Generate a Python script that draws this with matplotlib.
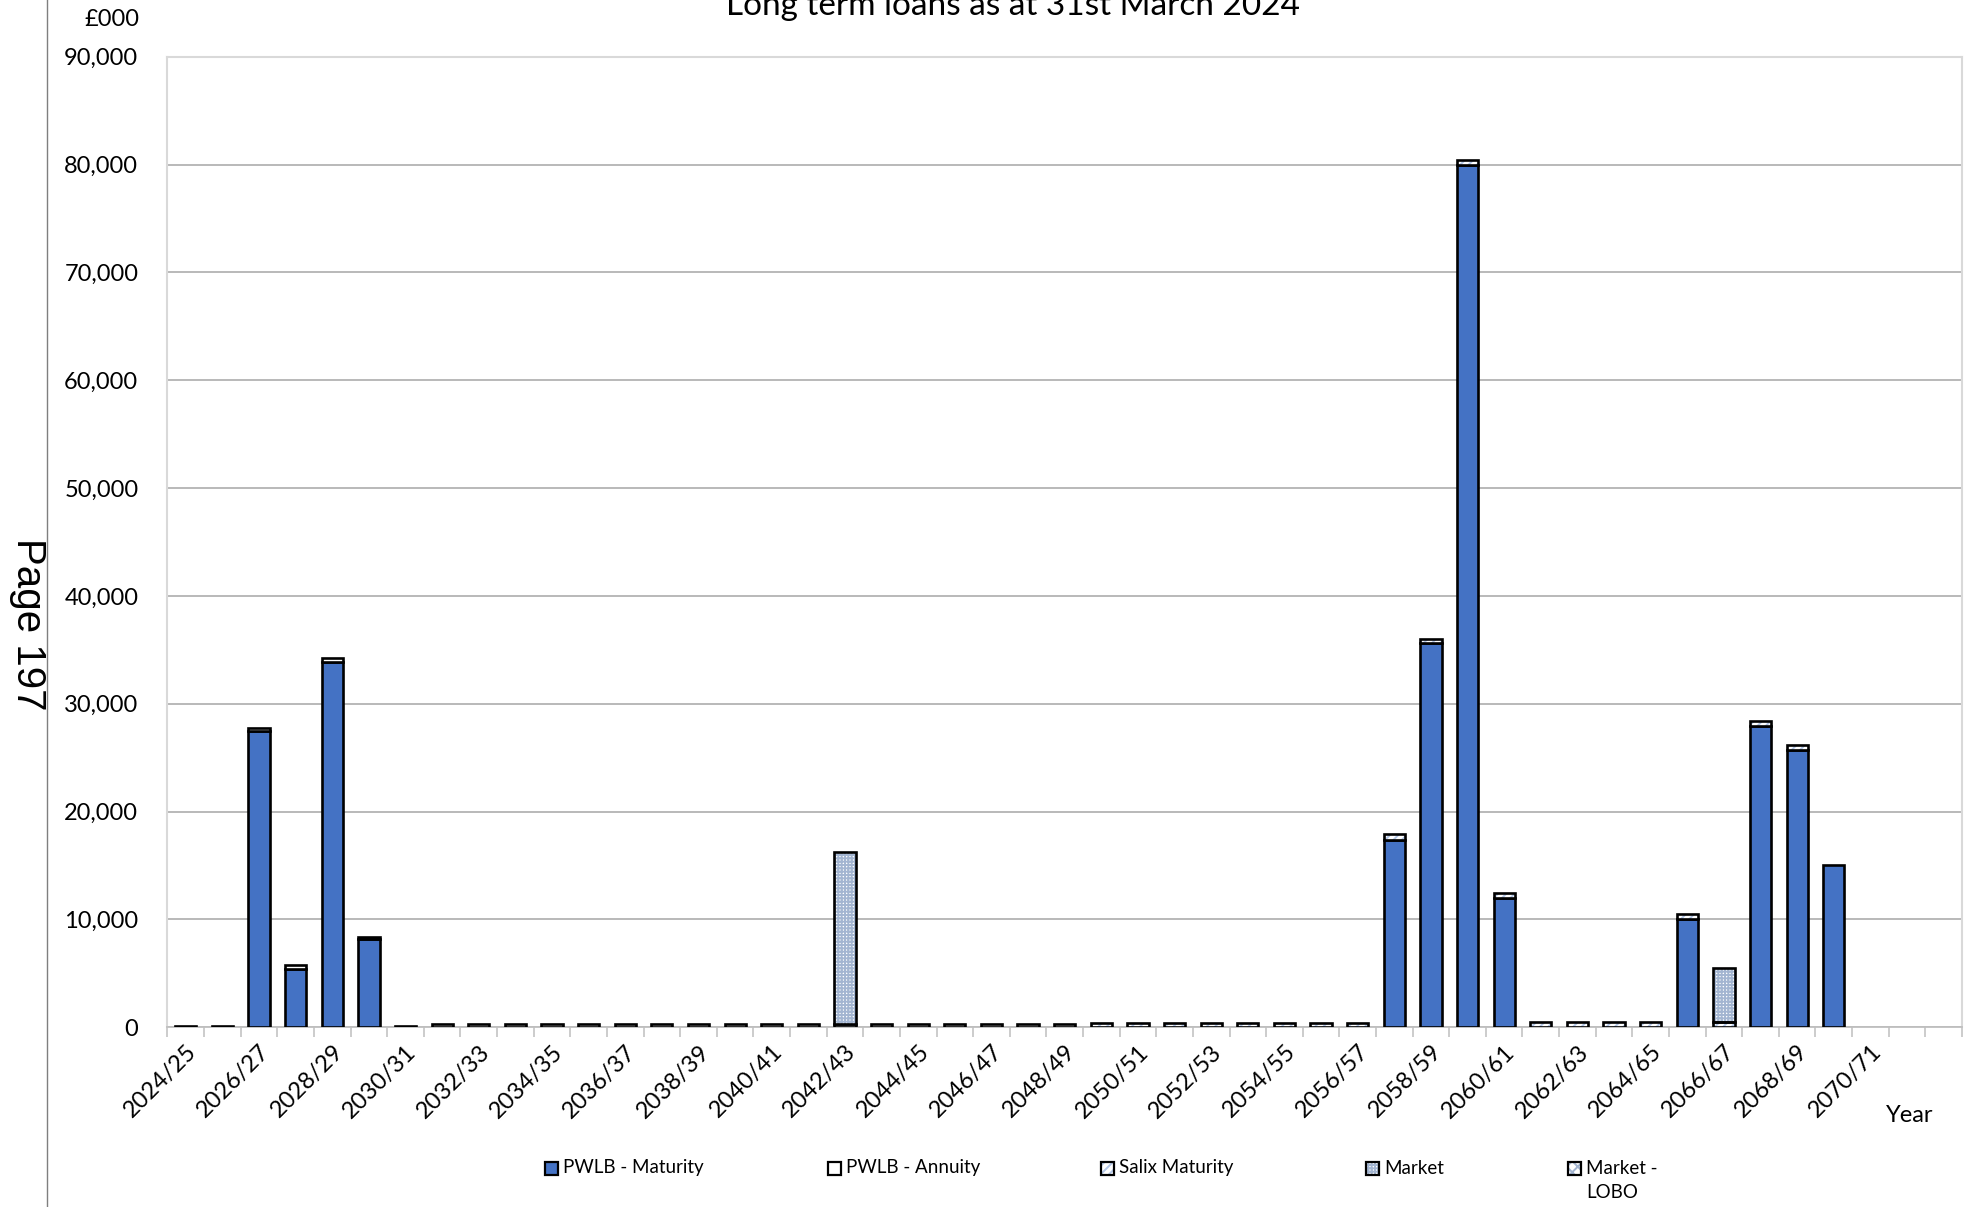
import matplotlib
matplotlib.use("Agg")
import matplotlib.pyplot as plt
import numpy as np
from matplotlib.patches import Rectangle
from matplotlib.lines import Line2D

plt.rcParams['font.family'] = ['Lato', 'DejaVu Sans']
plt.rcParams['hatch.linewidth'] = 1.4

# financial years 2024/25 .. 2072/73
years = [f"{y}/{(y + 1) % 100:02d}" for y in range(2024, 2073)]
last_labelled = "2070/71"

# £000 maturing in each year
pwlb_maturity = [0, 0, 27500, 5400, 33900, 8150, 0, 0, 0, 0,
                 0, 0, 0, 0, 0, 0, 0, 0, 0, 0,
                 0, 0, 0, 0, 0, 0, 0, 0, 0, 0,
                 0, 0, 0, 17400, 35600, 80000, 12000, 0, 0, 0,
                 0, 10000, 0, 27900, 25700, 15000, 0, 0, 0]
pwlb_annuity = [120, 120, 250, 350, 350, 250, 120, 250, 250, 250,
                250, 250, 250, 250, 250, 250, 250, 250, 250, 250,
                250, 250, 250, 250, 250, 0, 0, 0, 0, 0,
                0, 0, 0, 0, 0, 0, 0, 0, 0, 0,
                0, 0, 0, 0, 0, 0, 0, 0, 0]
salix_maturity = [0, 0, 0, 0, 0, 0, 0, 0, 0, 0,
                  0, 0, 0, 0, 0, 0, 0, 0, 0, 0,
                  0, 0, 0, 0, 0, 420, 420, 420, 420, 420,
                  420, 420, 420, 500, 400, 420, 420, 520, 520, 520,
                  520, 520, 520, 500, 500, 0, 0, 0, 0]
market = [0, 0, 0, 0, 0, 0, 0, 0, 0, 0,
          0, 0, 0, 0, 0, 0, 0, 0, 16000, 0,
          0, 0, 0, 0, 0, 0, 0, 0, 0, 0,
          0, 0, 0, 0, 0, 0, 0, 0, 0, 0,
          0, 0, 5000, 0, 0, 0, 0, 0, 0]
market_lobo = [0] * 49

names = ["PWLB - Maturity", "PWLB - Annuity", "Salix Maturity", "Market", "Market -\nLOBO"]
series = [pwlb_maturity, pwlb_annuity, salix_maturity, market, market_lobo]
# face colour, hatch, hatch colour
styles = [("#4472C4", None, None),
          ("white", None, None),
          ("white", "////", "#B4C7E7"),
          ("white", "+++++", "#A3B5D1"),
          ("white", "xxx", "#A3B5D1")]

fig = plt.figure(figsize=(19.75, 12.07), dpi=100)
ax = fig.add_axes([0.0848, 0.149, 0.9086, 0.804])

x = np.arange(len(years))
w = 0.58
bottom = np.zeros(len(years))
for vals, (fc, hatch, hc) in zip(series, styles):
    vals = np.array(vals, dtype=float)
    m = vals > 0   # skip empty segments so no stray outlines are drawn
    if m.any():
        if hatch:
            ax.bar(x[m], vals[m], w, bottom=bottom[m], color=fc, edgecolor=hc,
                   hatch=hatch, linewidth=0, zorder=3)
            ax.bar(x[m], vals[m], w, bottom=bottom[m], fill=False,
                   edgecolor="black", linewidth=1.9, zorder=4)
        else:
            ax.bar(x[m], vals[m], w, bottom=bottom[m], color=fc,
                   edgecolor="black", linewidth=1.9, zorder=3)
    bottom += vals

ax.set_xlim(-0.5, len(years) - 0.5)
ax.set_ylim(0, 90000)
ax.set_yticks(np.arange(0, 90001, 10000))
ax.set_yticklabels([f"{v:,}" for v in range(0, 90001, 10000)], fontsize=17)
ax.yaxis.grid(True, color="#A6A6A6", linewidth=1.1, zorder=0)
ax.tick_params(axis="y", length=0, pad=21)

stop = years.index(last_labelled)
ax.set_xticks(x)
ax.set_xticklabels([lab if i % 2 == 0 and i <= stop else "" for i, lab in enumerate(years)],
                   rotation=45, ha="right", rotation_mode="anchor", fontsize=17)
ax.tick_params(axis="x", which="major", length=0, pad=10)
ax.set_xticks(np.arange(-0.5, len(years), 1), minor=True)
ax.tick_params(axis="x", which="minor", length=7, width=1.1, color="#BFBFBF")

for s in ["top", "right", "left"]:
    ax.spines[s].set_color("#D9D9D9")
    ax.spines[s].set_linewidth(1.5)
ax.spines["bottom"].set_color("#BFBFBF")
ax.spines["bottom"].set_linewidth(1.3)

fig.text(0.513, 1 - 15 / 1207, "Long term loans as at 31st March 2024",
         ha="center", va="baseline", fontsize=24)
fig.text(139 / 1975, 1 - 26 / 1207, "£000", ha="right", va="baseline", fontsize=17)
fig.text(1886 / 1975, 1 - 1115 / 1207, "Year", ha="left", va="center", fontsize=17)

# page number and margin line
fig.text(28 / 1975, 1 - 624 / 1207, "Page 197", rotation=-90, ha="center", va="center",
         fontsize=29, family="Liberation Sans")
fig.add_artist(Line2D([46.6 / 1975] * 2, [0, 1], color="#7F7F7F", linewidth=1.0))

# legend along the bottom
leg_x = [545, 828, 1101, 1366, 1568]
leg_y = 1 - 1168 / 1207
sq_w, sq_h = 13 / 1975, 13 / 1207
for lx, name, (fc, hatch, hc) in zip(leg_x, names, styles):
    fx = lx / 1975
    if hatch:
        fig.add_artist(Rectangle((fx, leg_y - sq_h / 2), sq_w, sq_h, facecolor=fc,
                                 edgecolor=hc, hatch=hatch, linewidth=0,
                                 transform=fig.transFigure))
    fig.add_artist(Rectangle((fx, leg_y - sq_h / 2), sq_w, sq_h, fill=(hatch is None),
                             facecolor=fc, edgecolor="black", linewidth=1.6,
                             transform=fig.transFigure))
    lines = name.split("\n")
    fig.text(fx + 18 / 1975, leg_y, lines[0], ha="left", va="center", fontsize=13.5)
    if len(lines) > 1:
        fig.text(fx + 18 / 1975, leg_y - 25 / 1207, lines[1], ha="left", va="center", fontsize=13.5)

fig.savefig("out.png", dpi=100)
